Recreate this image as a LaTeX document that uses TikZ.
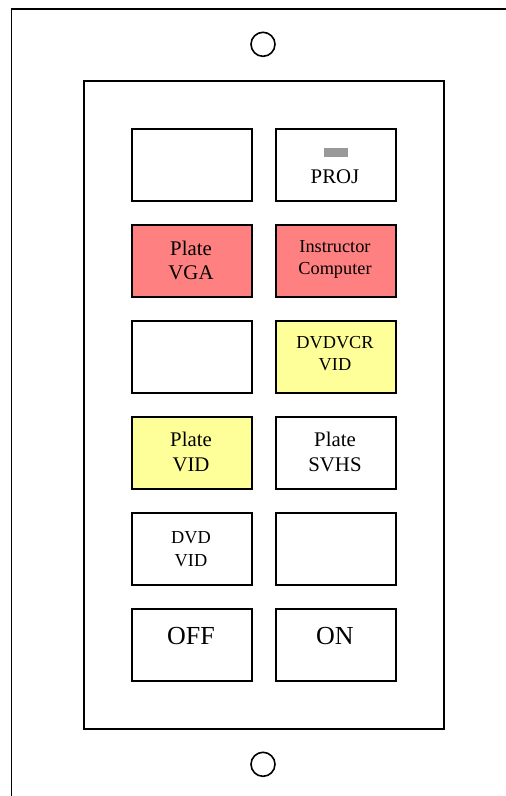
\documentclass[tikz,border=0pt]{standalone}
\usepackage{fontspec}
\setmainfont{Liberation Serif}
\definecolor{btnred}{RGB}{255,128,128}
\definecolor{btnyellow}{RGB}{255,255,153}
\definecolor{ledgray}{RGB}{153,153,153}
\begin{document}
\begin{tikzpicture}[x=1pt,y=-1pt,
  btn/.style={draw=black,line width=2pt,fill=white,minimum width=120pt,minimum height=72pt,inner sep=0pt,anchor=north west},
  lbl/.style={anchor=base,inner sep=0pt,font=\fontsize{20.8}{24}\selectfont},
  lblsm/.style={anchor=base,inner sep=0pt,font=\fontsize{18.3}{22}\selectfont},
  lblbig/.style={anchor=base,inner sep=0pt,font=\fontsize{26}{30}\selectfont},
  hole/.style={draw=black,line width=1.6pt,circle,minimum size=24pt,inner sep=0pt},
  edge/.style={draw=black,line width=1.8pt}]
\useasboundingbox (0,0) rectangle (506,796);
\fill[white] (0,0) rectangle (506,796);
% wall plate (continues beyond the picture)
\begin{scope}
\clip (0,0) rectangle (506,796);
\draw[edge] (11.5,800) -- (11.5,8.7) -- (510,8.7);
\end{scope}
% keypad frame
\node[edge,minimum width=360pt,minimum height=648pt,inner sep=0pt,anchor=north west] (frame) at (83,80.3) {};
% mounting holes
\node[hole] (holetop) at (263,44.3) {};
\node[hole] (holebot) at (263,764.3) {};
% buttons
\node[btn] (b11) at (131,128.3) {};
\node[btn] (b12) at (275,128.3) {};
\node[btn,fill=btnred] (b21) at (131,224.3) {};
\node[btn,fill=btnred] (b22) at (275,224.3) {};
\node[btn] (b31) at (131,320.3) {};
\node[btn,fill=btnyellow] (b32) at (275,320.3) {};
\node[btn,fill=btnyellow] (b41) at (131,416.3) {};
\node[btn] (b42) at (275,416.3) {};
\node[btn] (b51) at (131,512.3) {};
\node[btn] (b52) at (275,512.3) {};
\node[btn] (b61) at (131,608.3) {};
\node[btn] (b62) at (275,608.3) {};
% indicator
\node[fill=ledgray,minimum width=24pt,minimum height=9pt,inner sep=0pt,anchor=north west] (led) at (323.3,148) {};
% labels
\node[lbl] (t12) at (335,183.3) {PROJ};
\node[lbl] (t21a) at (191,255) {Plate};
\node[lbl] (t21b) at (191,279.3) {VGA};
\node[lblsm] (t22a) at (335,252.7) {Instructor};
\node[lblsm] (t22b) at (335,274.3) {Computer};
\node[lblsm] (t32a) at (335,348.3) {DVDVCR};
\node[lblsm] (t32b) at (335,370.7) {VID};
\node[lbl] (t41a) at (191,446.7) {Plate};
\node[lbl] (t41b) at (191,471.7) {VID};
\node[lbl] (t42a) at (335,446.7) {Plate};
\node[lbl] (t42b) at (335,471.7) {SVHS};
\node[lblsm] (t51a) at (191,543.3) {DVD};
\node[lblsm] (t51b) at (191,566.7) {VID};
\node[lblbig] (t61) at (191,644.3) {OFF};
\node[lblbig] (t62) at (335,644.3) {ON};
\end{tikzpicture}
\end{document}
